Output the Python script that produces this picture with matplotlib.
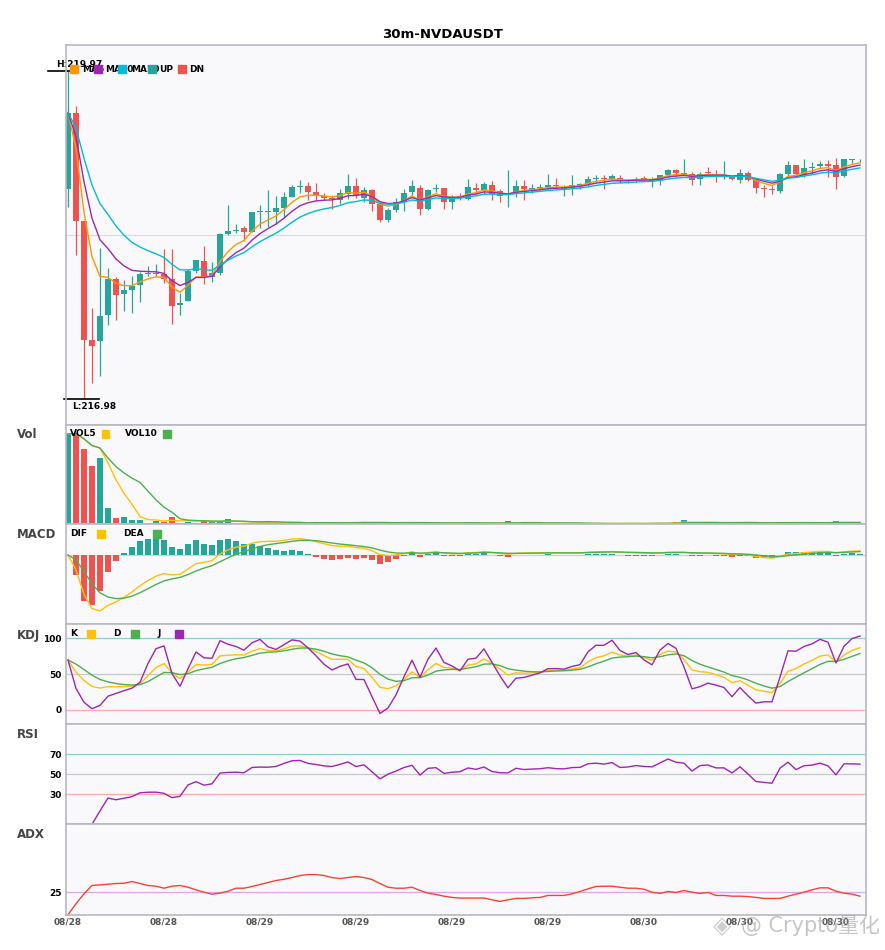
import numpy as np
import pandas as pd
import matplotlib
matplotlib.use('Agg')
import matplotlib.pyplot as plt
from matplotlib.patches import Rectangle

symbol = 'NVDAUSDT'
interval = '30m'
start = '2025-08-28 12:00'

opens = [218.897, 219.592, 218.598, 217.516, 217.505, 217.742, 218.068, 217.937, 217.973, 218.013,
         218.117, 218.120, 218.120, 218.074, 217.836, 217.870, 218.144, 218.233, 218.090, 218.126,
         218.486, 218.507, 218.534, 218.500, 218.684, 218.684, 218.681, 218.717, 218.824, 218.912,
         218.918, 218.863, 218.827, 218.815, 218.790, 218.851, 218.918, 218.812, 218.882, 218.754,
         218.607, 218.699, 218.775, 218.863, 218.906, 218.711, 218.891, 218.906, 218.775, 218.827,
         218.805, 218.906, 218.882, 218.928, 218.879, 218.818, 218.851, 218.918, 218.882, 218.903,
         218.912, 218.930, 218.897, 218.903, 218.921, 218.943, 218.989, 218.998, 218.989, 218.998,
         218.970, 218.973, 218.998, 218.970, 218.979, 219.019, 219.068, 219.028, 219.034, 218.989,
         219.050, 219.025, 219.010, 219.013, 218.979, 219.037, 218.979, 218.903, 218.894, 218.876,
         219.028, 219.110, 219.025, 219.089, 219.101, 219.126, 219.110, 219.010, 219.159, 219.156]
highs = [219.970, 219.650, 218.598, 217.809, 218.358, 218.175, 218.090, 218.059, 218.095, 218.138,
         218.190, 218.205, 218.345, 218.342, 217.943, 218.166, 218.242, 218.370, 218.223, 218.492,
         218.745, 218.577, 218.556, 218.681, 218.745, 218.882, 218.827, 218.867, 218.927, 218.973,
         218.958, 218.952, 218.857, 218.836, 218.897, 219.034, 218.998, 218.912, 218.897, 218.775,
         218.723, 218.815, 218.891, 218.973, 218.927, 218.897, 218.937, 218.906, 218.836, 218.860,
         218.988, 218.952, 218.958, 218.967, 218.897, 219.065, 218.979, 218.979, 218.943, 218.943,
         219.028, 218.998, 218.930, 219.025, 218.952, 219.013, 219.019, 219.019, 219.028, 219.025,
         218.988, 218.999, 219.013, 219.004, 219.025, 219.080, 219.080, 219.165, 219.050, 219.050,
         219.095, 219.065, 219.150, 219.025, 219.074, 219.056, 218.995, 218.934, 218.918, 219.043,
         219.147, 219.117, 219.171, 219.141, 219.147, 219.156, 219.177, 219.171, 219.171, 219.165]
lows = [218.730, 218.293, 216.980, 217.120, 217.187, 217.647, 217.693, 217.780, 217.760, 217.861,
        218.095, 218.095, 218.035, 217.663, 217.742, 217.867, 218.129, 218.028, 218.040, 218.105,
        218.470, 218.492, 218.419, 218.500, 218.537, 218.546, 218.577, 218.638, 218.821, 218.857,
        218.796, 218.790, 218.790, 218.714, 218.754, 218.800, 218.812, 218.775, 218.690, 218.592,
        218.592, 218.684, 218.693, 218.836, 218.659, 218.699, 218.866, 218.714, 218.714, 218.790,
        218.796, 218.851, 218.851, 218.790, 218.775, 218.730, 218.821, 218.790, 218.857, 218.882,
        218.897, 218.897, 218.830, 218.836, 218.897, 218.912, 218.958, 218.897, 218.973, 218.952,
        218.952, 218.958, 218.964, 218.912, 218.928, 219.004, 219.004, 219.019, 218.928, 218.934,
        219.019, 218.958, 218.988, 218.973, 218.952, 218.964, 218.860, 218.821, 218.851, 218.861,
        219.004, 219.004, 219.004, 219.034, 219.089, 219.004, 218.897, 219.004, 219.135, 219.141]
closes = [219.592, 218.601, 217.516, 217.464, 217.738, 218.068, 217.925, 217.967, 218.010, 218.114,
          218.129, 218.130, 218.071, 217.824, 217.855, 218.144, 218.242, 218.090, 218.129, 218.483,
          218.507, 218.516, 218.498, 218.681, 218.696, 218.693, 218.717, 218.818, 218.909, 218.921,
          218.863, 218.842, 218.815, 218.803, 218.857, 218.918, 218.842, 218.882, 218.760, 218.607,
          218.705, 218.775, 218.861, 218.918, 218.711, 218.888, 218.906, 218.775, 218.805, 218.818,
          218.909, 218.882, 218.937, 218.851, 218.827, 218.824, 218.918, 218.897, 218.906, 218.912,
          218.930, 218.918, 218.915, 218.934, 218.937, 218.989, 218.998, 218.989, 219.010, 218.967,
          218.973, 218.989, 218.982, 218.979, 219.019, 219.065, 219.043, 219.037, 218.979, 219.034,
          219.040, 219.019, 219.019, 218.982, 219.037, 218.979, 218.903, 218.894, 218.885, 219.028,
          219.110, 219.034, 219.089, 219.098, 219.126, 219.101, 219.004, 219.165, 219.165, 219.162]
volumes = [9000, 9000, 7500, 5800, 6600, 1630, 600, 730, 430, 430,
           170, 370, 270, 730, 170, 270, 170, 430, 270, 270,
           530, 70, 170, 170, 100, 330, 130, 130, 130, 130,
           130, 230, 130, 130, 130, 230, 230, 230, 130, 130,
           130, 130, 230, 130, 170, 130, 100, 130, 130, 130,
           230, 100, 100, 100, 100, 330, 100, 230, 100, 100,
           100, 100, 100, 70, 70, 70, 100, 70, 70, 70,
           130, 70, 70, 130, 130, 100, 230, 430, 170, 130,
           130, 130, 130, 130, 170, 170, 170, 170, 170, 170,
           170, 170, 170, 130, 130, 170, 330, 170, 170, 130]
adx_vals = [0.0, 12.1, 23.1, 32.3, 33.0, 33.7, 34.5, 34.8, 36.7, 34.5,
            32.3, 31.5, 29.3, 31.5, 32.3, 30.4, 27.5, 24.9, 22.7, 23.8,
            26.0, 29.3, 29.3, 31.2, 33.4, 35.6, 37.8, 39.2, 41.1, 43.3,
            44.4, 44.4, 43.3, 41.1, 40.0, 41.1, 42.2, 41.1, 38.9, 34.5,
            30.4, 29.3, 29.3, 30.4, 26.8, 23.8, 22.4, 20.5, 19.1, 18.4,
            18.4, 18.4, 18.4, 16.5, 14.7, 16.5, 18.0, 18.0, 18.7, 19.1,
            21.3, 21.3, 21.3, 23.1, 25.7, 28.6, 31.2, 31.5, 31.5, 30.4,
            29.3, 29.3, 28.2, 24.9, 23.5, 25.7, 24.6, 26.8, 24.9, 23.5,
            24.6, 21.3, 21.3, 20.5, 20.5, 20.1, 19.1, 18.0, 18.0, 18.0,
            20.5, 22.7, 24.9, 27.5, 29.7, 29.7, 26.0, 23.8, 22.7, 20.5]

UP = '#26a69a'
DN = '#ef5350'
MA_COLORS = ['#ff9800', '#9c27b0', '#00bcd4']
YEL = '#ffc107'
GRN = '#4caf50'
PUR = '#9c27b0'
FACE = '#f9f9fb'
SPINE = '#b8b8c2'

W, H = 885, 950

df = pd.DataFrame({'open': opens, 'high': highs, 'low': lows,
                   'close': closes, 'vol': volumes})
df.index = pd.date_range(start, periods=len(df), freq='30min')
x = np.arange(len(df))
close = df['close']
up = df['close'] >= df['open']
colors = np.where(up, UP, DN)

# indicators
mas = [close.ewm(span=n, adjust=False).mean() for n in (5, 8, 13)]
vol5 = df['vol'].rolling(5, min_periods=1).mean()
vol10 = df['vol'].rolling(10, min_periods=1).mean()
dif = close.ewm(span=6, adjust=False).mean() - close.ewm(span=13, adjust=False).mean()
dea = dif.ewm(span=5, adjust=False).mean()
hist = 2 * (dif - dea)
low9 = df['low'].rolling(9, min_periods=1).min()
high9 = df['high'].rolling(9, min_periods=1).max()
rsv = (close - low9) / (high9 - low9) * 100
k = rsv.ewm(com=2, adjust=False).mean()
d = k.ewm(com=2, adjust=False).mean()
j = 3 * k - 2 * d
delta = close.diff()
gain = delta.clip(lower=0).ewm(com=13).mean()
loss = (-delta.clip(upper=0)).ewm(com=13).mean()
rsi = 100 * gain / (gain + loss)


def px_axes(top, bottom):
  return fig.add_axes([66 / W, 1 - bottom / H, 800 / W, (bottom - top) / H])


def fig_text(px, py, s, **kw):
  fig.text(px / W, 1 - py / H, s, **kw)


def square(px, py, color, z):
  fig.patches.append(Rectangle(((px - 3.8) / W, 1 - (py + 3.8) / H), 7.6 / W, 7.6 / H,
                               transform=fig.transFigure, color=color, zorder=z))


def legend_row(items, py, marker_first):
  z = 5
  for tx, label, color, sx in items:
    if marker_first:
      square(sx, py, color, z)
      fig_text(tx, py, label, fontsize=6.5, fontweight='bold', va='center', zorder=z + 1)
    else:
      fig_text(tx, py, label, fontsize=6.5, fontweight='bold', va='center', zorder=z)
      square(sx, py, color, z + 1)
    z += 2


fig = plt.figure(figsize=(W / 100, H / 100), dpi=100)
fig.text(0.5, 1 - 34 / H, interval + '-' + symbol, ha='center', va='center',
         fontsize=9.5, fontweight='bold')

ax = px_axes(45, 424.7)
axv = px_axes(424.7, 524.3)
axm = px_axes(524.3, 624)
axk = px_axes(624, 724)
axr = px_axes(724, 824.3)
axa = px_axes(824.3, 914.7)
panels = [ax, axv, axm, axk, axr, axa]

for a in panels:
  a.set_facecolor(FACE)
  a.set_xlim(-0.25, len(df) - 0.25)
  for s in a.spines.values():
    s.set_color(SPINE)
    s.set_linewidth(1.2)
    s.set_zorder(10)
  a.tick_params(axis='both', length=0, labelsize=6.5, pad=3)
  a.set_xticks([])
  a.set_yticks([])

# price panel
hi = df['high'].max()
lo = df['low'].min()
rng = hi - lo
ax.set_ylim(lo - 0.08 * rng, hi + 0.08 * rng)
ax.axhline((hi + lo) / 2, color='#dcdce2', lw=0.9, zorder=0)
ax.vlines(x, df['low'], df['high'], color=colors, lw=0.9, zorder=2)
body_lo = np.minimum(df['open'], df['close'])
body_h = np.maximum((df['close'] - df['open']).abs(), 0.006)
ax.bar(x, body_h, bottom=body_lo, width=0.75, color=colors, zorder=3)
for ma, c in zip(mas, MA_COLORS):
  ax.plot(x, ma, color=c, lw=1.0, zorder=4)

ih = int(df['high'].values.argmax())
il = int(df['low'].values.argmin())
ax.plot([ih - 2.5, ih + 1.3], [hi, hi], color='black', lw=1.2, clip_on=False, zorder=5)
ax.annotate('H:%.2f' % hi, (ih - 1.5, hi), xytext=(0, 1.5), textcoords='offset points',
            fontsize=6.5, fontweight='bold', va='bottom', annotation_clip=False)
ax.plot([il - 2.5, il + 1.9], [lo, lo], color='black', lw=1.2, clip_on=False, zorder=5)
ax.annotate('L:%.2f' % lo, (il - 1.5, lo), xytext=(0, -2.5), textcoords='offset points',
            fontsize=6.5, fontweight='bold', va='top', annotation_clip=False)

legend_row([(82, 'MA5', MA_COLORS[0], 74), (105, 'MA10', MA_COLORS[1], 98),
            (131, 'MA20', MA_COLORS[2], 122), (159, 'UP', UP, 152), (189, 'DN', DN, 182)],
           69, True)

# volume
axv.bar(x, df['vol'], width=0.75, color=colors, zorder=2)
axv.plot(x, vol5, color=YEL, lw=1.0, zorder=3)
axv.plot(x, vol10, color=GRN, lw=1.0, zorder=3)
axv.set_ylim(0, df['vol'].max() * 1.1)
legend_row([(70, 'VOL5', YEL, 105.5), (125, 'VOL10', GRN, 167)], 434, False)

# macd
axm.axhline(0, color='#d0d0d6', lw=0.9, zorder=0)
axm.bar(x, hist, width=0.75, color=np.where(hist >= 0, UP, DN), zorder=2)
axm.plot(x, dif, color=YEL, lw=1.0, zorder=3)
axm.plot(x, dea, color=GRN, lw=1.0, zorder=3)
dmin = dif.min()
axm.set_ylim(dmin * 1.232, -dmin * 0.548)
legend_row([(70, 'DIF', YEL, 101), (123, 'DEA', GRN, 157)], 534, False)

# kdj
axk.axhline(100, color='#8ccfcc', lw=0.9, zorder=0)
axk.axhline(50, color='#c8c8cc', lw=0.9, zorder=0)
axk.axhline(0, color='#ffabab', lw=0.9, zorder=0)
axk.plot(x, k, color=YEL, lw=1.0)
axk.plot(x, d, color=GRN, lw=1.0)
axk.plot(x, j, color=PUR, lw=1.0)
axk.set_ylim(-20, 120)
axk.set_yticks([0, 50, 100])
axk.set_yticklabels(['0', '50', '100'], fontweight='bold')
legend_row([(70, 'K', YEL, 91), (113, 'D', GRN, 135), (157, 'J', PUR, 179)], 634, False)

# rsi
axr.axhline(70, color='#8ccfcc', lw=0.9, zorder=0)
axr.axhline(50, color='#c8c8cc', lw=0.9, zorder=0)
axr.axhline(30, color='#ffabab', lw=0.9, zorder=0)
axr.plot(x, rsi, color=PUR, lw=1.0)
axr.set_ylim(0, 100)
axr.set_yticks([30, 50, 70])
axr.set_yticklabels(['30', '50', '70'], fontweight='bold')

# adx
axa.axhline(25, color='#dda6e6', lw=0.9, zorder=0)
axa.plot(x, adx_vals, color='#f44336', lw=1.0)
axa.set_ylim(0, 100)
axa.set_yticks([25])
axa.set_yticklabels(['25'], fontweight='bold')
ticks = x[::12]
axa.set_xticks(ticks)
axa.set_xticklabels(df.index[ticks].strftime('%m/%d'), fontweight='bold', color='#555555')
axa.tick_params(axis='x', pad=2)

for label, py in [('Vol', 434), ('MACD', 535), ('KDJ', 636), ('RSI', 735), ('ADX', 835)]:
  fig_text(17, py, label, fontsize=8.5, fontweight='bold', color='#444444', va='center')

# watermark
fig_text(722, 926, '\u25c8', fontsize=17, color='#a8a8a8', alpha=0.55, ha='center', va='center')
fig_text(880, 926, '@ Crypto量化', fontsize=15, color='#a0a0a0', alpha=0.6, ha='right',
         va='center', family=['DejaVu Sans', 'Noto Sans CJK SC'])

fig.savefig('out.png', dpi=100)
